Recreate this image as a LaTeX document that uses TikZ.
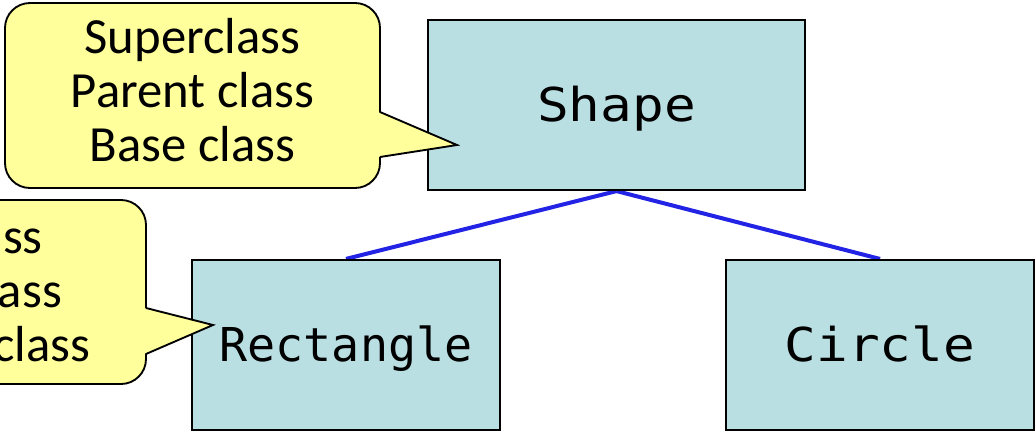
\documentclass[tikz,border=0pt]{standalone}
\usepackage{fontspec}
\usepackage{graphicx}
\setmainfont{Carlito}
\newfontfamily\monofont{DejaVu Sans Mono}
\usetikzlibrary{backgrounds}
\definecolor{classfill}{RGB}{185,223,227}
\definecolor{notefill}{RGB}{255,255,156}
\definecolor{linkblue}{RGB}{35,35,230}
\tikzset{
  classbox/.style={draw=black, line width=1.6pt, fill=classfill, inner sep=0pt,
    font=\fontsize{35}{40}\monofont, text height=24pt, text depth=0pt},
  notebody/.style={draw=black, line width=1.4pt, fill=notefill, rounded corners=18.75pt},
  notetip/.style={draw=black, line width=1.4pt, line join=miter},
  notetext/.style={align=center, inner sep=0pt, font=\fontsize{38}{40.5}\selectfont},
  link/.style={draw=linkblue, line width=3pt}
}
\begin{document}
\begin{tikzpicture}[x=0.75pt, y=-0.75pt]
\useasboundingbox (0,0) rectangle (1036,432);
\clip (0,0) rectangle (1036,432);

% class hierarchy
\node[classbox, minimum width=282.75pt, minimum height=127.5pt] (shape) at (616.5,105) {\scalebox{1.13}[1]{Shape}};
\node[classbox, minimum width=231pt, minimum height=127.5pt] (rect) at (346,345) {Rectangle};
\node[classbox, minimum width=231pt, minimum height=127.5pt] (circ) at (880,345) {\scalebox{1.13}[1]{Circle}};

\begin{scope}[on background layer]
  \draw[link] (shape.south) -- (rect.north);
  \draw[link] (shape.south) -- (circ.north);
\end{scope}

% note for the base class (anchored on the baseline of its last line)
\draw[notebody] (5,3) rectangle (380,188);
\coordinate (suptip) at (457,145);
\fill[notefill] (378,112) -- (suptip) -- (378,157) -- cycle;
\draw[notetip] (380,112) -- (suptip) -- (380,157);
\node[notetext, anchor=base] (supnote) at (192.5,161) {Superclass\\Parent class\\Base class};

% note for the derived class
\draw[notebody] (-234,200) rectangle (146,384);
\coordinate (subtip) at (213,325);
\fill[notefill] (144,308) -- (subtip) -- (144,354) -- cycle;
\draw[notetip] (146,308) -- (subtip) -- (146,354);
\node[notetext, anchor=base] (subnote) at (-44,361) {Subclass\\Child class\\Derived class};
\end{tikzpicture}
\end{document}
